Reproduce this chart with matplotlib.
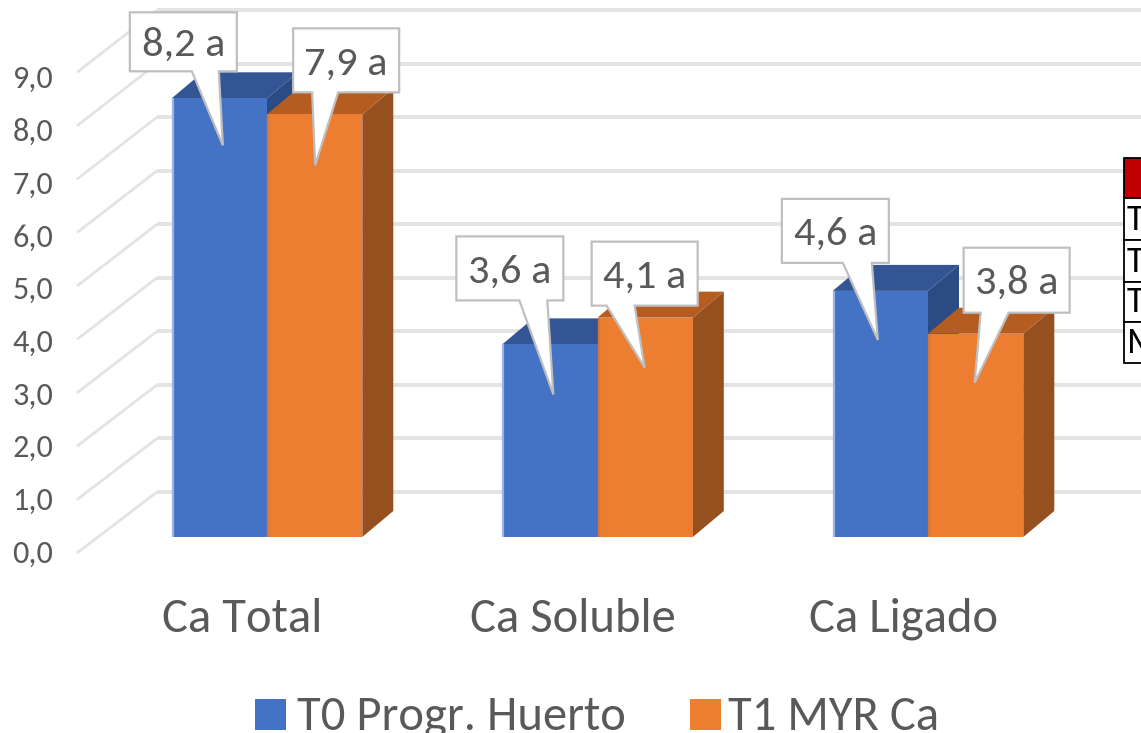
import matplotlib
matplotlib.use("Agg")
import matplotlib.pyplot as plt
from matplotlib.patches import Polygon, Rectangle
from matplotlib import font_manager

# ---------------- data ----------------
categories = ["Ca Total", "Ca Soluble", "Ca Ligado"]
series_names = ["T0 Progr. Huerto", "T1 MYR Ca"]
t0_values = [8.2, 3.6, 4.6]
t1_values = [7.9, 4.1, 3.8]
t0_letters = ["a", "a", "a"]
t1_letters = ["a", "a", "a"]
y_ticks = [0, 1, 2, 3, 4, 5, 6, 7, 8, 9]
table_rows = ["T0", "T1", "T2", "M"]

# ---------------- fonts ----------------
avail = {f.name for f in font_manager.fontManager.ttflist}
FONT = "DejaVu Sans"
SCALE = 0.8
for cand, sc in [("Carlito", 1.0), ("Calibri", 1.0), ("Lato", 0.9), ("Open Sans", 0.85)]:
    if cand in avail:
        FONT, SCALE = cand, sc
        break
plt.rcParams["font.family"] = [FONT, "DejaVu Sans"]

# ---------------- geometry (pixels) ----------------
W, H = 1141, 733
PX_CAT = 330.5      # pixels per category
PX_UNIT = 53.5      # pixels per value unit (bar plane)
X0 = 267.0          # px of category 0 centre
Y0 = 537.0          # px (from top) of value 0 in bar plane


def d(xp, yp):
    return ((xp - X0) / PX_CAT, (Y0 - yp) / PX_UNIT)


def dx(px):
    return px / PX_CAT


def dy(px):
    return px / PX_UNIT


fig = plt.figure(figsize=(W / 100, H / 100), dpi=100)
ax = fig.add_axes([0, 0, 1, 1])
ax.set_xlim(d(0, 0)[0], d(W, 0)[0])
ax.set_ylim(d(0, H)[1], d(0, 0)[1])
ax.axis("off")

TXT = "#595959"
GRID = "#e3e3e3"

# ---------------- walls / gridlines ----------------
back_x0 = d(157, 0)[0]
front_x0 = d(77, 0)[0]
back_off, back_sc = dy(Y0 - 492), 53.55 / PX_UNIT
front_off, front_sc = dy(Y0 - 553), 53.4 / PX_UNIT
for v in y_ticks:
    yb = back_off + v * back_sc
    yf = front_off + v * front_sc
    ax.plot([back_x0, d(W + 5, 0)[0]], [yb, yb], color=GRID, lw=2.8,
            solid_capstyle="butt", zorder=1)
    ax.plot([front_x0, back_x0], [yf, yb], color=GRID, lw=2.0,
            solid_capstyle="butt", zorder=1)
    lbl_y = dy(Y0 - 562.5) + v * 52.7 / PX_UNIT
    ax.text(d(53, 0)[0], lbl_y, f"{v:.1f}".replace(".", ","), ha="right",
            va="baseline", fontsize=23.2 * SCALE, color=TXT, zorder=5)

# ---------------- 3D bars ----------------
BW = dx(95.3)
DX, DY = dx(31), dy(26)
colors = [
    {"front": "#4472C4", "top": "#335593", "side": "#2B4B85", "edge": "#9DB4E0"},
    {"front": "#ED7D31", "top": "#B55D21", "side": "#965020", "edge": "#D9763A"},
]
series_vals = [t0_values, t1_values]
xs = list(range(len(categories)))

for ci in xs:
    for si, vals in enumerate(series_vals):
        v = vals[ci]
        x0 = ci - BW if si == 0 else ci
        col = colors[si]
        z = 3 + ci * 2 + si
        ax.bar([x0], [v], width=BW, align="edge", color=col["front"],
               linewidth=0, zorder=z + 0.2)
        # thin highlight on the left edge of the front face
        ax.plot([x0 + dx(1), x0 + dx(1)], [0, v], color=col["edge"], lw=1.6,
                solid_capstyle="butt", zorder=z + 0.3)
        top = Polygon([(x0, v), (x0 + DX, v + DY), (x0 + BW + DX, v + DY),
                       (x0 + BW, v)], closed=True, facecolor=col["top"],
                      edgecolor="none", zorder=z + 0.1)
        side = Polygon([(x0 + BW, 0), (x0 + BW + DX, DY), (x0 + BW + DX, v + DY),
                        (x0 + BW, v)], closed=True, facecolor=col["side"],
                       edgecolor="none", zorder=z)
        ax.add_patch(side)
        ax.add_patch(top)

# ---------------- callouts ----------------
# per series, per category: (tip dx px, tip dy px, left, right, top, bottom, notch_l, notch_r)
callout_layout = [
    [(3.5, 47, -93, 14, -133, -74, 62, 89),
     (3.5, 50, -97, 10, -158, -94, 63, 91),
     (-2.5, 49, -96, 11, -141, -77, 61, 90)],
    [(0.5, 51, -22, 84, -137, -73, 19, 45),
     (-0.5, 50, -53, 53, -126, -62, 15, 43),
     (-1.0, 49, -11, 95, -135, -70, 17, 45)],
]
letters = [t0_letters, t1_letters]
for si, vals in enumerate(series_vals):
    for ci in xs:
        v = vals[ci]
        cx = ci - BW / 2 if si == 0 else ci + BW / 2
        tdx, tdy, L, R, T, B, nl, nr = callout_layout[si][ci]
        tip = (cx + dx(tdx), v - dy(tdy))
        pts_px = [(L, T), (R, T), (R, B), (L + nr, B), None, (L + nl, B), (L, B)]
        pts = []
        for p in pts_px:
            if p is None:
                pts.append(tip)
            else:
                pts.append((tip[0] + dx(p[0]), tip[1] - dy(p[1])))
        ax.add_patch(Polygon(pts, closed=True, facecolor="white",
                             edgecolor="#BFBFBF", lw=1.6, joinstyle="miter",
                             zorder=20))
        bx = tip[0] + dx((L + R) / 2)
        by = tip[1] - dy((T + B) / 2 + 14)
        ax.text(bx, by, f"{v:.1f}".replace(".", ",") + " " + letters[si][ci],
                ha="center", va="baseline", fontsize=30.5 * SCALE, color=TXT,
                zorder=21)

# ---------------- category labels ----------------
for ci, name in enumerate(categories):
    ax.text(ci + dx(-24.5), d(0, 632)[1], name, ha="center", va="baseline",
            fontsize=35 * SCALE, color=TXT, zorder=5)

# ---------------- legend ----------------
leg_items = [(255, 297), (690, 728)]
for si, name in enumerate(series_names):
    sx, tx = leg_items[si]
    px0, py0 = d(sx, 730)
    ax.add_patch(Rectangle((px0, py0), dx(31), dy(31), facecolor=colors[si]["front"],
                           edgecolor="none", zorder=5, clip_on=False))
    ax.text(d(tx, 0)[0], d(0, 730)[1], name, ha="left", va="baseline",
            fontsize=35 * SCALE, color=TXT, zorder=5, clip_on=False)

# ---------------- partial table on the right ----------------
tab_x = 1124
row_edges = [158, 198, 240, 282, 322, 363]
for ri in range(len(row_edges) - 1):
    y_top, y_bot = row_edges[ri], row_edges[ri + 1]
    rx, ry = d(tab_x, y_bot)
    fc = "#C00000" if ri == 0 else "white"
    ax.add_patch(Rectangle((rx, ry), dx(60), dy(y_bot - y_top), facecolor=fc,
                           edgecolor="black", lw=1.3, zorder=30, clip_on=False))
    if ri > 0:
        ax.text(d(tab_x + 3, 0)[0], d(0, y_bot - 10)[1], table_rows[ri - 1],
                ha="left", va="baseline", fontsize=26 * SCALE, color="black",
                zorder=31)

fig.savefig("out.png", dpi=100)
